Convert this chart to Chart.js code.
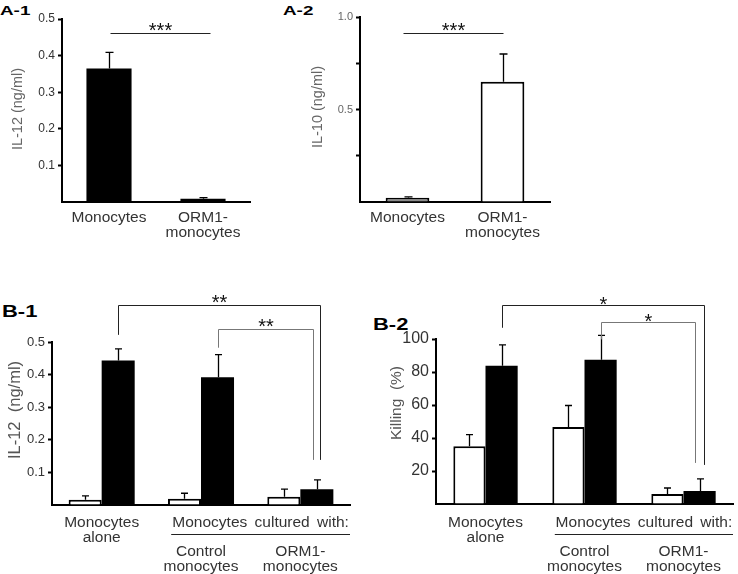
<!DOCTYPE html>
<html>
<head>
<meta charset="utf-8">
<title>IL-12 / IL-10 and killing by monocytes</title>
<script src="https://cdn.jsdelivr.net/npm/chart.js@4.4.1/dist/chart.umd.min.js"></script>
<style>
  body { margin: 0; background: #fff; font-family: "Liberation Sans", Arial, sans-serif; }
  #fig { position: relative; width: 738px; height: 574px; overflow: hidden; }
  #fig canvas { position: absolute; }
  .tag { position: absolute; font-weight: bold; line-height: 1; color: #000; transform-origin: 0 0; white-space: nowrap; }
</style>
</head>
<body>
<div id="fig">
  <div class="tag" style="left:0;top:4px;font-size:13px;transform:scaleX(1.45)">A-1</div>
  <div class="tag" style="left:283px;top:4px;font-size:13px;transform:scaleX(1.45)">A-2</div>
  <div class="tag" style="left:2px;top:303px;font-size:16.5px;transform:scaleX(1.33)">B-1</div>
  <div class="tag" style="left:373px;top:316px;font-size:16.5px;transform:scaleX(1.33)">B-2</div>
  <canvas id="a1" width="280" height="250" style="left:0;top:0"></canvas>
  <canvas id="a2" width="280" height="250" style="left:280px;top:0"></canvas>
  <canvas id="b1" width="365" height="284" style="left:0;top:290px"></canvas>
  <canvas id="b2" width="370" height="284" style="left:368px;top:290px"></canvas>
</div>
<script>
// A: monocytes vs ORM1-monocytes
const aGroups = [['Monocytes'], ['ORM1-', 'monocytes']];
const il12A = [0.365, 0.009];
const il12AErr = [0.044, 0.003];
const il10A = [0.023, 0.65];
const il10AErr = [0.005, 0.15];
const a1TickValues = [0, 0.1, 0.2, 0.3, 0.4, 0.5];
const a1TickLabels = ['', '0.1', '0.2', '0.3', '0.4', '0.5'];
const a2TickValues = [0, 0.25, 0.5, 0.75, 1.0];
const a2TickLabels = ['', '', '0.5', '', '1.0'];

// B: monocytes alone / cultured with control or ORM1-monocytes
const bGroups = [['Monocytes', 'alone', '', ''], ['', '', 'Control', 'monocytes'], ['', '', 'ORM1-', 'monocytes']];
const il12Rest = [0.016, 0.019, 0.025];
const il12RestErr = [0.012, 0.017, 0.024];
const il12Stim = [0.443, 0.392, 0.048];
const il12StimErr = [0.036, 0.069, 0.029];
const killRest = [35, 46.7, 6.1];
const killRestErr = [7, 13, 3.6];
const killStim = [83.8, 87.5, 7.9];
const killStimErr = [12.7, 14.7, 7.3];
const b1TickValues = [0, 0.1, 0.2, 0.3, 0.4, 0.5];
const b1TickLabels = ['', '0.1', '0.2', '0.3', '0.4', '0.5'];
const b2TickValues = [0, 20, 40, 60, 80, 100];
const b2TickLabels = ['', '20', '40', '60', '80', '100'];

const FONT = "'Liberation Sans', Arial, sans-serif";
Chart.defaults.font.family = FONT;
Chart.defaults.animation = false;

// one-sided error bars on top of each bar
const errorBars = {
  id: 'errorBars',
  afterDatasetsDraw(chart, args, o) {
    const { ctx } = chart;
    const y = chart.scales.y;
    chart.data.datasets.forEach((ds, i) => {
      if (!ds.errors) return;
      chart.getDatasetMeta(i).data.forEach((bar, j) => {
        const top = y.getPixelForValue(ds.data[j] + ds.errors[j]);
        const x = Math.round(bar.x) + 0.5;
        ctx.save();
        ctx.strokeStyle = '#000';
        ctx.lineWidth = 1.3;
        ctx.beginPath();
        ctx.moveTo(x, bar.y);
        ctx.lineTo(x, top);
        ctx.moveTo(x - o.cap, top);
        ctx.lineTo(x + o.cap, top);
        ctx.stroke();
        ctx.restore();
      });
    });
  }
};

// significance lines / brackets
const brackets = {
  id: 'brackets',
  afterDraw(chart, args, o) {
    const { ctx } = chart;
    const y = chart.scales.y;
    const ds = chart.data.datasets;
    (o.items || []).forEach(b => {
      const end = ([g, d], dx, gap) => {
        const bar = chart.getDatasetMeta(d).data[g];
        const v = ds[d].data[g] + ds[d].errors[g];
        return { x: Math.round(bar.x + dx) + 0.5, y: y.getPixelForValue(v) - gap };
      };
      const a = end(b.from, b.dxFrom || 0, b.gapFrom || 0);
      const c = end(b.to, b.dxTo || 0, b.gapTo || 0);
      ctx.save();
      ctx.strokeStyle = b.color || '#222';
      ctx.lineWidth = 1;
      ctx.beginPath();
      if (b.legs) {
        ctx.moveTo(a.x, a.y);
        ctx.lineTo(a.x, b.top);
        ctx.lineTo(c.x, b.top);
        ctx.lineTo(c.x, c.y);
      } else {
        ctx.moveTo(a.x, b.top);
        ctx.lineTo(c.x, b.top);
      }
      ctx.stroke();
      ctx.fillStyle = '#111';
      ctx.font = `20px ${FONT}`;
      ctx.textAlign = 'center';
      ctx.textBaseline = 'alphabetic';
      ctx.fillText(b.label, (a.x + c.x) / 2, b.top + (o.labelDy || 0));
      ctx.restore();
    });
  }
};

// "Monocytes cultured with:" over the last two groups
const groupLabel = {
  id: 'groupLabel',
  afterDraw(chart, args, o) {
    if (!o.text) return;
    const { ctx } = chart;
    const x = chart.scales.x;
    const cw = x.getPixelForValue(1) - x.getPixelForValue(0);
    const left = x.getPixelForValue(o.from) - cw * o.padL;
    const right = x.getPixelForValue(o.to) + cw * o.padR;
    ctx.save();
    ctx.font = `15.5px ${FONT}`;
    ctx.fillStyle = '#333';
    ctx.textAlign = 'center';
    ctx.textBaseline = 'middle';
    if ('wordSpacing' in ctx) ctx.wordSpacing = '3px';
    ctx.fillText(o.text, (left + right) / 2, x.top + o.textDy);
    const ly = Math.round(x.top + o.lineDy) + 0.5;
    ctx.strokeStyle = '#222';
    ctx.lineWidth = 1;
    ctx.beginPath();
    ctx.moveTo(left, ly);
    ctx.lineTo(right, ly);
    ctx.stroke();
    ctx.restore();
  }
};

// rotated y-axis title
const sideTitle = {
  id: 'sideTitle',
  afterDraw(chart, args, o) {
    if (!o.text) return;
    const { ctx } = chart;
    ctx.save();
    ctx.translate(o.x, o.y);
    ctx.rotate(-Math.PI / 2);
    ctx.scale(o.stretch || 1, 1);
    ctx.font = `${o.size}px ${FONT}`;
    ctx.fillStyle = o.color;
    ctx.textAlign = 'center';
    ctx.textBaseline = 'middle';
    ctx.fillText(o.text, 0, 0);
    ctx.restore();
  }
};

function yAxis(max, values, labels, width, size, color) {
  return {
    min: 0,
    max,
    afterBuildTicks: s => { s.ticks = values.map(value => ({ value })); },
    afterFit: s => { s.width = width; },
    ticks: { callback: (v, i) => labels[i], color, font: { size }, padding: 3 },
    grid: {
      drawOnChartArea: false,
      tickLength: 4,
      tickWidth: 2,
      tickColor: c => (c.tick && c.tick.value === 0 ? 'rgba(0,0,0,0)' : '#000')
    },
    border: { color: '#000', width: 2 }
  };
}

function xAxis(height, padding, lineHeight) {
  return {
    afterFit: s => { s.height = height; },
    grid: { display: false, drawTicks: false },
    border: { color: '#000', width: 2 },
    ticks: {
      color: '#333',
      padding,
      font: { size: 15.5, lineHeight },
      maxRotation: 0,
      minRotation: 0,
      autoSkip: false
    }
  };
}

function panel(id, cfg) {
  return new Chart(document.getElementById(id), {
    type: 'bar',
    data: { labels: cfg.labels, datasets: cfg.datasets },
    plugins: [errorBars, brackets, groupLabel, sideTitle],
    options: {
      responsive: false,
      devicePixelRatio: 1,
      animation: false,
      layout: { padding: cfg.padding },
      scales: { x: cfg.x, y: cfg.y },
      plugins: {
        legend: { display: false },
        tooltip: { enabled: false },
        errorBars: { cap: cfg.cap },
        brackets: cfg.brackets,
        groupLabel: cfg.group || {},
        sideTitle: cfg.title
      }
    }
  });
}

panel('a1', {
  labels: aGroups,
  datasets: [{
    data: il12A, errors: il12AErr,
    backgroundColor: '#000', borderColor: '#000', borderWidth: 0,
    barPercentage: 0.48, categoryPercentage: 1
  }],
  padding: { left: 0, top: 19, right: 30, bottom: 0 },
  x: xAxis(48, 8.5, '15px'),
  y: yAxis(0.5, a1TickValues, a1TickLabels, 62, 12, '#333'),
  cap: 4,
  brackets: { labelDy: 3, items: [{ from: [0, 0], to: [1, 0], top: 33.5, dxFrom: 1, dxTo: 7, label: '***' }] },
  title: { text: 'IL-12 (ng/ml)', x: 18, y: 109, size: 14.5, color: '#666' }
});

panel('a2', {
  labels: aGroups,
  datasets: [{
    data: il10A, errors: il10AErr,
    backgroundColor: ['#8c8c8c', '#fff'], borderColor: '#000', borderWidth: 2,
    barPercentage: 0.46, categoryPercentage: 1
  }],
  padding: { left: 0, top: 17, right: 10, bottom: 0 },
  x: xAxis(48, 8.5, '15px'),
  y: yAxis(1.0, a2TickValues, a2TickLabels, 80, 11, '#666'),
  cap: 4,
  brackets: { labelDy: 3, items: [{ from: [0, 0], to: [1, 0], top: 33.5, dxFrom: -5, dxTo: 0, label: '***' }] },
  title: { text: 'IL-10 (ng/ml)', x: 38, y: 107, size: 14.5, color: '#666' }
});

panel('b1', {
  labels: bGroups,
  datasets: [
    { data: il12Rest, errors: il12RestErr, backgroundColor: '#fff', borderColor: '#000', borderWidth: 2,
      barPercentage: 1, categoryPercentage: 0.665 },
    { data: il12Stim, errors: il12StimErr, backgroundColor: '#000', borderColor: '#000', borderWidth: 0,
      barPercentage: 1, categoryPercentage: 0.665 }
  ],
  padding: { left: 0, top: 52, right: 15, bottom: 0 },
  x: xAxis(69, 10.75, '14.5px'),
  y: yAxis(0.5, b1TickValues, b1TickLabels, 52, 13, '#333'),
  cap: 3.5,
  brackets: {
    labelDy: 3,
    items: [
      { from: [0, 1], to: [2, 1], top: 15.5, legs: true, dxTo: 3, gapFrom: 14, gapTo: 20, label: '**', color: '#222' },
      { from: [1, 1], to: [2, 1], top: 39.5, legs: true, dxTo: -4, gapFrom: 7, gapTo: 20, label: '**', color: '#777' }
    ]
  },
  group: { text: 'Monocytes cultured with:', from: 1, to: 2, padL: 0.3, padR: 0.5, textDy: 18, lineDy: 29.3 },
  title: { text: 'IL-12  (ng/ml)', x: 15, y: 120, size: 16.5, color: '#555' }
});

panel('b2', {
  labels: bGroups,
  datasets: [
    { data: killRest, errors: killRestErr, backgroundColor: '#fff', borderColor: '#000', borderWidth: 2,
      barPercentage: 1, categoryPercentage: 0.65 },
    { data: killStim, errors: killStimErr, backgroundColor: '#000', borderColor: '#000', borderWidth: 0,
      barPercentage: 1, categoryPercentage: 0.65 }
  ],
  padding: { left: 0, top: 49, right: 5, bottom: 0 },
  x: xAxis(70, 11.75, '14.5px'),
  y: yAxis(100, b2TickValues, b2TickLabels, 68, 16, '#333'),
  cap: 3.5,
  brackets: {
    labelDy: 5,
    items: [
      { from: [0, 1], to: [2, 1], top: 15.5, legs: true, dxTo: 4, gapFrom: 17, gapTo: 14, label: '*', color: '#222' },
      { from: [1, 1], to: [2, 1], top: 32.5, legs: true, dxTo: -5, gapFrom: -4, gapTo: 16, label: '*', color: '#777' }
    ]
  },
  group: { text: 'Monocytes cultured with:', from: 1, to: 2, padL: 0.3, padR: 0.5, textDy: 19, lineDy: 30.3 },
  title: { text: 'Killing  (%)', x: 29, y: 113, size: 15.5, color: '#555' }
});
</script>
</body>
</html>
